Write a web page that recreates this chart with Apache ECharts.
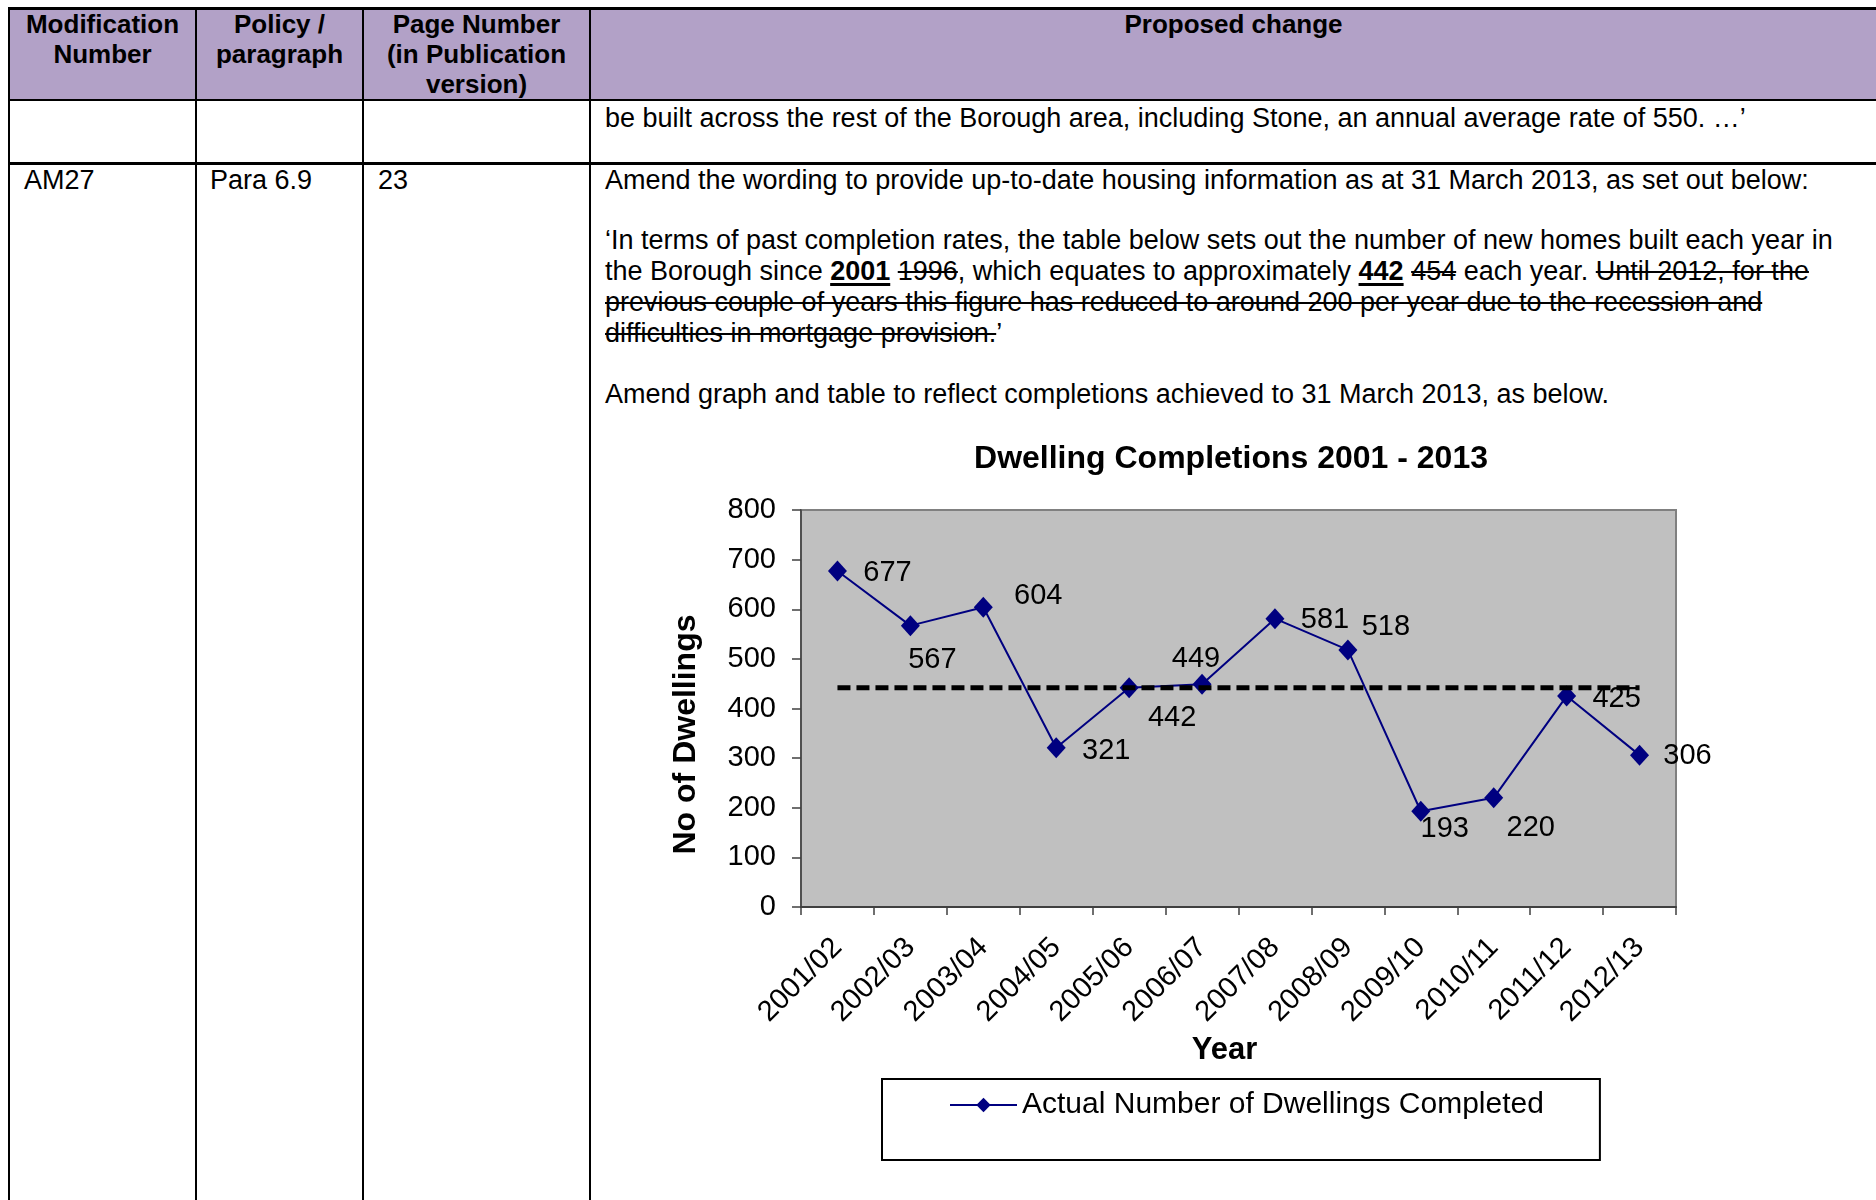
<!DOCTYPE html>
<html>
<head>
<meta charset="utf-8">
<script src="https://cdn.jsdelivr.net/npm/echarts@6/dist/echarts.min.js"></script>
<style>
  html, body { margin:0; padding:0; background:#fff; }
  body { width:1876px; height:1200px; overflow:hidden; position:relative;
         font-family:"Liberation Sans", Arial, sans-serif; color:#000; }
  .abs { position:absolute; }
  .hdr { background:#B2A1C7; }
  .hl { position:absolute; background:#000; }
  .th { position:absolute; font-weight:bold; font-size:26px; line-height:30px; text-align:center; top:9px; }
  .tx { position:absolute; font-size:27px; line-height:31px; white-space:nowrap; }
  s { text-decoration-thickness:2px; }
  b u { text-decoration-thickness:3px; text-underline-offset:3px; }
  #chart { position:absolute; left:0; top:0; width:1876px; height:1200px; }
</style>
</head>
<body>
<!-- table background and rules -->
<div class="abs hdr" style="left:10px;top:9px;width:1866px;height:91px;"></div>
<div class="hl" style="left:8px;top:7px;width:1868px;height:3px;"></div>
<div class="hl" style="left:8px;top:99px;width:1868px;height:2px;"></div>
<div class="hl" style="left:8px;top:162px;width:1868px;height:3px;"></div>
<div class="hl" style="left:8px;top:7px;width:2px;height:1193px;"></div>
<div class="hl" style="left:195px;top:7px;width:2px;height:1193px;"></div>
<div class="hl" style="left:362px;top:7px;width:2px;height:1193px;"></div>
<div class="hl" style="left:589px;top:7px;width:2px;height:1193px;"></div>

<div class="th" style="left:10px;width:185px;">Modification<br>Number</div>
<div class="th" style="left:197px;width:165px;">Policy /<br>paragraph</div>
<div class="th" style="left:364px;width:225px;">Page Number<br>(in Publication<br>version)</div>
<div class="th" style="left:591px;width:1285px;">Proposed change</div>

<div class="tx" style="left:605px;top:103px;">be built across the rest of the Borough area, including Stone, an annual average rate of 550. …’</div>

<div class="tx" style="left:24px;top:165px;">AM27</div>
<div class="tx" style="left:210px;top:165px;">Para 6.9</div>
<div class="tx" style="left:378px;top:165px;">23</div>

<div class="tx" style="left:605px;top:165px;">Amend the wording to provide up-to-date housing information as at 31 March 2013, as set out below:</div>
<div class="tx" style="left:605px;top:225px;">‘In terms of past completion rates, the table below sets out the number of new homes built each year in</div>
<div class="tx" style="left:605px;top:256px;">the Borough since <b><u>2001</u></b> <s>1996</s>, which equates to approximately <b><u>442</u></b> <s>454</s> each year. <s>Until 2012, for the</s></div>
<div class="tx" style="left:605px;top:287px;"><s>previous couple of years this figure has reduced to around 200 per year due to the recession and</s></div>
<div class="tx" style="left:605px;top:318px;"><s>difficulties in mortgage provision.</s>’</div>
<div class="tx" style="left:605px;top:379px;">Amend graph and table to reflect completions achieved to 31 March 2013, as below.</div>

<div id="chart"></div>

<script>
// ---- data ----
const years = ['2001/02','2002/03','2003/04','2004/05','2005/06','2006/07',
               '2007/08','2008/09','2009/10','2010/11','2011/12','2012/13'];
const completions = [677, 567, 604, 321, 442, 449, 581, 518, 193, 220, 425, 306];
const averageLine = [442, 442, 442, 442, 442, 442, 442, 442, 442, 442, 442, 442];
const yTicks = { min: 0, max: 800, interval: 100 };
const seriesName = 'Actual Number of Dwellings Completed';
const chartTitle = 'Dwelling Completions 2001 - 2013';
const xName = 'Year';
const yName = 'No of Dwellings';

// label offsets (placement of data labels, as in the original chart)
const labelOffsets = [[50,2],[22,34],[55,-11],[50,3],[43,30],[-6,-25],
                      [50,1],[38,-23],[24,18],[37,30],[50,3],[48,1]];

const FONT = '"Liberation Sans", Arial, sans-serif';
const chart = echarts.init(document.getElementById('chart'), null, {renderer:'canvas'});
chart.setOption({
  animation: false,
  backgroundColor: 'transparent',
  textStyle: { fontFamily: FONT, color: '#000' },
  title: {
    text: chartTitle,
    left: 1226, top: 438, textAlign: 'center',
    textStyle: { fontFamily: FONT, fontSize: 32, fontWeight: 'bold', color: '#000' }
  },
  grid: {
    left: 801, top: 510, width: 875, height: 397,
    show: true, backgroundColor: '#C0C0C0', borderColor: '#808080', borderWidth: 2
  },
  legend: {
    data: [seriesName],
    left: 882, top: 1079,
    orient: 'horizontal',
    itemWidth: 67, itemHeight: 18,
    padding: [11, 56, 40, 67],
    borderColor: '#000', borderWidth: 2,
    textStyle: { fontFamily: FONT, fontSize: 30, color: '#000' }
  },
  xAxis: {
    type: 'category', data: years, boundaryGap: true,
    name: xName, nameLocation: 'middle', nameGap: 128,
    nameTextStyle: { fontFamily: FONT, fontSize: 31, fontWeight: 'bold', color: '#000', padding: [0, 28, 0, 0] },
    axisLine: { show: true, lineStyle: { color: '#404040', width: 2 } },
    axisTick: { show: true, length: 8, alignWithLabel: false, lineStyle: { color: '#404040', width: 1.5 } },
    axisLabel: { interval: 0, rotate: 45, fontSize: 29, color: '#000', margin: 36, fontFamily: FONT },
    splitLine: { show: false }
  },
  yAxis: {
    type: 'value', min: yTicks.min, max: yTicks.max, interval: yTicks.interval,
    name: yName, nameLocation: 'middle', nameRotate: 90, nameGap: 99,
    nameTextStyle: { fontFamily: FONT, fontSize: 32, fontWeight: 'bold', color: '#000', padding: [0, 52, 0, 0] },
    axisLine: { show: true, lineStyle: { color: '#404040', width: 1.5 } },
    axisTick: { show: true, length: 9, lineStyle: { color: '#404040', width: 1.5 } },
    axisLabel: { fontSize: 29, color: '#000', margin: 25, fontFamily: FONT },
    splitLine: { show: false }
  },
  series: [
    {
      name: seriesName, type: 'line', data: completions.map((v, i) => ({
        value: v,
        label: { offset: labelOffsets[i] }
      })),
      z: 2,
      color: '#000080',
      lineStyle: { color: '#000080', width: 2 },
      itemStyle: { color: '#000080' },
      symbol: 'diamond', symbolSize: [19, 21],
      label: { show: true, position: 'inside', fontSize: 29, color: '#000', fontFamily: FONT }
    },
    {
      name: 'Average', type: 'line', data: averageLine,
      z: 5, symbol: 'none', silent: true,
      lineStyle: { color: '#000', width: 5, type: [13, 6] }
    }
  ]
});
</script>
</body>
</html>
